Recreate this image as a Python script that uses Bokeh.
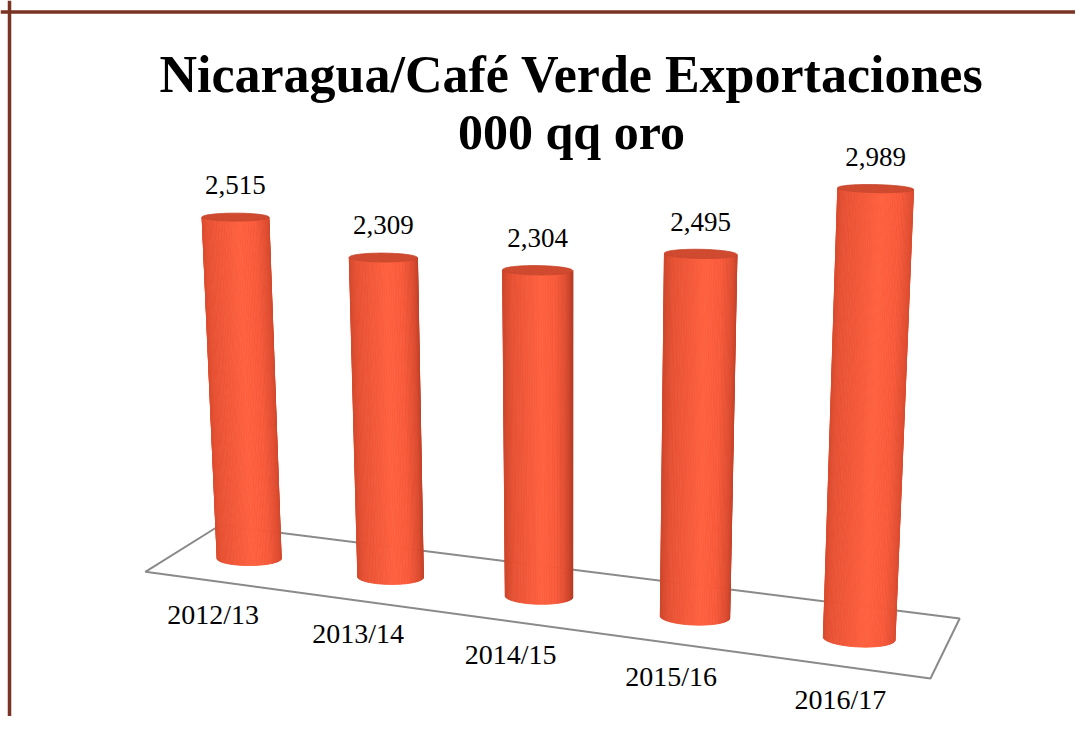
import numpy as np
from bokeh.plotting import figure
from bokeh.models import Range1d, Span
from bokeh.core.properties import value
from bokeh.embed import file_html
from bokeh.resources import INLINE

# ---------------- data ----------------
categories = ["2012/13", "2013/14", "2014/15", "2015/16", "2016/17"]
exports = [2515, 2309, 2304, 2495, 2989]
value_labels = [f"{v:,}" for v in exports]
title_lines = ["Nicaragua/Café Verde Exportaciones", "000 qq oro"]

# ---------------- layout / style ----------------
W, H = 1075, 716
FONT = "Liberation Serif"

# 3D projective camera (world X = category index, Y = value, Z = depth)
WZ = 0.033
CAM = np.array([
    [132.1, -0.00929, WZ * 1347.0, 248.7],
    [4.85, -0.1393, WZ * -178.0, 558.0],
    [-0.02374, -1.63e-5, WZ, 1.0],
])
# cross-section of each cylinder in the (X, Z) floor plane: conjugate axes
E1 = np.array([0.1939, 0.1445])
E2 = np.array([0.0633, -0.2410])
Z_FRONT, Z_BACK = -0.91, 1.06
X_MIN, X_MAX = -0.5, len(categories) - 0.5


def project(X, Y, Z):
    X, Y, Z = np.broadcast_arrays(np.asarray(X, float), np.asarray(Y, float), np.asarray(Z, float))
    pts = np.stack([X, Y, Z, np.ones_like(X)])
    h = np.tensordot(CAM, pts, axes=1)
    return h[0] / h[2], h[1] / h[2]


# camera centre (null space of the projection)
_, _, vt = np.linalg.svd(CAM)
C = vt[-1] / vt[-1][3]

STOPS_T = [0.0, 0.15, 0.55, 0.75, 0.9, 1.0]
STOPS_C = [(205, 72, 45), (232, 82, 52), (255, 98, 64), (248, 90, 58), (220, 76, 48), (180, 60, 38)]


def shade(t):
    r = np.interp(t, STOPS_T, [c[0] for c in STOPS_C])
    g = np.interp(t, STOPS_T, [c[1] for c in STOPS_C])
    b = np.interp(t, STOPS_T, [c[2] for c in STOPS_C])
    return "#%02x%02x%02x" % (int(r), int(g), int(b))


p = figure(width=W, height=H, x_range=Range1d(0, W), y_range=Range1d(H, 0),
           output_backend="svg", toolbar_location=None, x_axis_type=None, y_axis_type=None,
           min_border=0)
p.outline_line_color = None
p.background_fill_color = "white"
p.border_fill_color = "white"

# floor
fx, fy = project([X_MIN, X_MAX, X_MAX, X_MIN], 0, [Z_FRONT, Z_FRONT, Z_BACK, Z_BACK])
p.patch(list(fx), list(fy), fill_color="white", line_color="#8a8a8a", line_width=2)

# cylinders
N = 120
theta = np.linspace(0, 2 * np.pi, N + 1)
xs, ys, cols = [], [], []
cap_xs, cap_ys = [], []


def section(i, a):
    return i + E1[0] * np.cos(a) + E2[0] * np.sin(a), E1[1] * np.cos(a) + E2[1] * np.sin(a)


for i, v in enumerate(exports):
    strips = []
    for k in range(N):
        tm = 0.5 * (theta[k] + theta[k + 1])
        qx, qz = section(i, tm)
        tx_, tz_ = -E1[0] * np.sin(tm) + E2[0] * np.cos(tm), -E1[1] * np.sin(tm) + E2[1] * np.cos(tm)
        nx, nz = tz_, -tx_
        if nx * (qx - i) + nz * qz < 0:
            nx, nz = -nx, -nz
        if nx * (C[0] - qx) + nz * (C[2] - qz) <= 0:
            continue
        x0, z0 = section(i, theta[k])
        x1, z1 = section(i, theta[k + 1])
        sx, sy = project([x0, x1, x1, x0], [0, 0, v, v], [z0, z1, z1, z0])
        strips.append((sx, sy))
    allx = np.concatenate([s[0] for s in strips])
    lo, hi = allx.min(), allx.max()
    for sx, sy in strips:
        t = (sx.mean() - lo) / (hi - lo)
        c = shade(t)
        xs.append(list(sx)); ys.append(list(sy)); cols.append(c)
    cxw, czw = section(i, theta)
    cx, cy = project(cxw, v, czw)
    cap_xs.append(list(cx)); cap_ys.append(list(cy))

p.patches(xs, ys, fill_color=cols, line_color=cols, line_width=0.8)
p.patches(cap_xs, cap_ys, fill_color="#d04a30", line_color="#c4442b", line_width=0.8)

# value labels
idx = np.arange(len(categories))
tx, ty = project(idx, exports, 0)
p.text(x=list(tx), y=list(ty), text=value_labels, text_align="center", text_baseline="alphabetic",
       y_offset=-32, text_font=value(FONT), text_font_size="27px", text_color="black")

# category labels
lx, ly = project(idx, 0, Z_FRONT)
p.text(x=list(lx), y=list(ly), text=categories, text_align="center", text_baseline="alphabetic",
       x_offset=-2, y_offset=33, text_font=value(FONT), text_font_size="28px", text_color="black")

# title
p.text(x=[571], y=[74], text=[title_lines[0]], text_align="center", text_baseline="alphabetic",
       text_font=value(FONT), text_font_size="52px", text_font_style="bold", text_color="black")
p.text(x=[571], y=[131], text=[title_lines[1]], text_align="center", text_baseline="alphabetic",
       text_font=value(FONT), text_font_size="50px", text_font_style="bold", text_color="black")

# brown frame (top and left edges visible)
p.add_layout(Span(location=9, dimension="height", line_color="#7a3323", line_width=3.5))
p.add_layout(Span(location=11.5, dimension="width", line_color="#7a3323", line_width=3.5))

open("out.html", "w").write(file_html(p, INLINE))
